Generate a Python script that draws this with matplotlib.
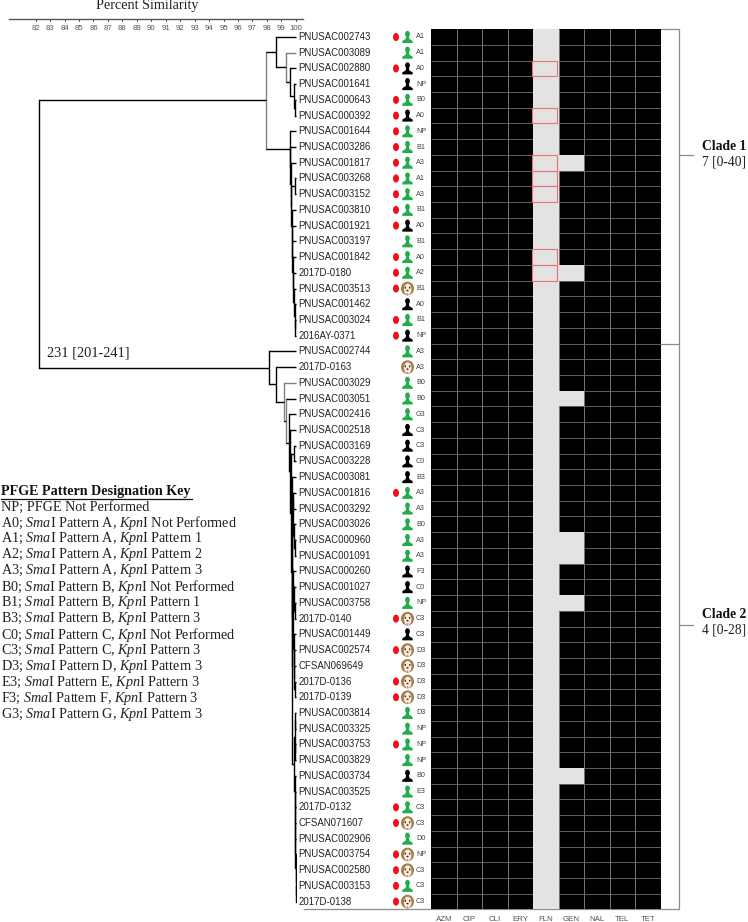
import numpy as np
import matplotlib
matplotlib.use('Agg')
from matplotlib import pyplot as plt
from matplotlib.colors import ListedColormap
from matplotlib.patches import Ellipse, Polygon, Rectangle

plt.rcParams['mathtext.fontset'] = 'custom'
plt.rcParams['mathtext.it'] = 'Liberation Serif:italic'
plt.rcParams['mathtext.rm'] = 'Liberation Serif'

W, H = 748, 922

isolates = ['PNUSAC002743', 'PNUSAC003089', 'PNUSAC002880', 'PNUSAC001641', 'PNUSAC000643', 'PNUSAC000392',
            'PNUSAC001644', 'PNUSAC003286', 'PNUSAC001817', 'PNUSAC003268', 'PNUSAC003152', 'PNUSAC003810',
            'PNUSAC001921', 'PNUSAC003197', 'PNUSAC001842', '2017D-0180', 'PNUSAC003513', 'PNUSAC001462',
            'PNUSAC003024', '2016AY-0371', 'PNUSAC002744', '2017D-0163', 'PNUSAC003029', 'PNUSAC003051',
            'PNUSAC002416', 'PNUSAC002518', 'PNUSAC003169', 'PNUSAC003228', 'PNUSAC003081', 'PNUSAC001816',
            'PNUSAC003292', 'PNUSAC003026', 'PNUSAC000960', 'PNUSAC001091', 'PNUSAC000260', 'PNUSAC001027',
            'PNUSAC003758', '2017D-0140', 'PNUSAC001449', 'PNUSAC002574', 'CFSAN069649', '2017D-0136',
            '2017D-0139', 'PNUSAC003814', 'PNUSAC003325', 'PNUSAC003753', 'PNUSAC003829', 'PNUSAC003734',
            'PNUSAC003525', '2017D-0132', 'CFSAN071607', 'PNUSAC002906', 'PNUSAC003754', 'PNUSAC002580',
            'PNUSAC003153', '2017D-0138']
pfge = ['A1', 'A1', 'A0', 'NP', 'B0', 'A0', 'NP', 'B1', 'A3', 'A1', 'A3', 'B1', 'A0', 'B1', 'A0', 'A2', 'B1', 'A0',
        'B1', 'NP', 'A3', 'A3', 'B0', 'B0', 'G3', 'C3', 'C3', 'C0', 'B3', 'A3', 'A3', 'B0', 'A3', 'A3', 'F3', 'C0',
        'NP', 'C3', 'C3', 'D3', 'D3', 'D3', 'D3', 'D3', 'NP', 'NP', 'NP', 'B0', 'E3', 'C3', 'C3', 'D0', 'NP', 'C3',
        'C3', 'C3']
# g = green person, k = black person, d = dog
source = list('ggkkgkggggggkggg' 'dkgk' 'gdggg' 'kkkk' 'ggggg' 'kk' 'g' 'd' 'k' 'dddd' 'gggg' 'k' 'gg' 'd' 'g' 'dd' 'g' 'd')
red_rows = [0, 2, 4, 5, 6, 7, 8, 9, 10, 11, 12, 14, 15, 16, 18, 19, 29, 37, 39, 41, 42, 45, 49, 50, 52, 53, 54, 55]

drugs = ['AZM', 'CIP', 'CLI', 'ERY', 'FLN', 'GEN', 'NAL', 'TEL', 'TET']
gen_rows = [8, 15, 23, 32, 33, 36, 47]
boxed_rows = [2, 5, 8, 9, 10, 14, 15]

sim_ticks = list(range(82, 101))

# ladders in the tree: (similarity, leaf or subtree hanging off it)
clade1_tail = [(99.60, 6), (99.62, 7), (99.65, 8), (99.68, (99.97, 9, 10)), (99.72, 11), (99.74, 12), (99.76, 13),
               (99.80, 14), (99.84, 15), (99.88, 16), (99.92, 17), (99.97, 18)]
clade2_tail = [(99.93, 47), (99.95, 48), (99.96, 49), (99.97, 50), (99.97, 51), (99.98, 52), (99.98, 53), (99.99, 54)]
gray_nodes = [97.94, 99.30, 99.17]
gray_leaves = [1, 22]


def chain(steps, last):
    node = last
    for sim, child in reversed(steps):
        node = (sim, child, node)
    return node


clade1 = (97.94,
          (98.66, 0, (99.30, 1, (99.60, 2, (99.85, 3, (99.97, 4, 5))))),
          chain(clade1_tail, 19))
wa = (99.80, (99.83, 29, 30), (99.86, 31, (99.97, 32, 33)))
wb = (99.80, (99.84, 34, (99.90, 35, (99.97, 36, 37))), (99.86, 38, (99.88, 39, (99.90, 40, (99.97, 41, 42)))))
xa = (99.92, (99.97, 43, 44), (99.94, 45, 46))
lower = (99.74, (99.76, wa, wb), (99.86, xa, chain(clade2_tail, 55)))
clade2 = (98.12, 20,
          (98.64, 21,
           (99.17, 22,
            (99.30, 23,
             (99.50, 24,
              (99.62, 25,
               (99.68, (99.90, 26, 27),
                (99.72, 28, lower))))))))
tree = (82.26, clade1, clade2)


def axes_px(left, top, right, bottom):
    return fig.add_axes([left / W, 1 - bottom / H, (right - left) / W, (bottom - top) / H])


fig = plt.figure(figsize=(W / 100, H / 100), dpi=100)

# overlay in pixels, for the annotations and the icons
over = axes_px(0, 0, W, H)
over.set_xlim(0, W)
over.set_ylim(H, 0)
over.axis('off')


def row_y(r):
    return 37 + r * 15.72


def sim_px(s):
    return 35.7 + (s - 82) * 14.45


# tree, x is percent similarity, y is row number
tr = axes_px(9, row_y(-0.5), 297, row_y(55.5))
tr.set_xlim((9 - 35.7) / 14.45 + 82, (297 - 35.7) / 14.45 + 82)
tr.set_ylim(55.5, -0.5)
tr.axis('off')


def draw(node):
    if isinstance(node, int):
        return node
    sim, a, b = node
    ya = draw(a)
    yb = draw(b)
    col = '#808080' if sim in gray_nodes else 'black'
    tr.plot([sim, sim], [ya, yb], color=col, lw=1.0, solid_capstyle='projecting')
    for child, yc in ((a, ya), (b, yb)):
        if isinstance(child, int):
            c = '#808080' if child in gray_leaves else 'black'
            tr.plot([sim, 100], [yc, yc], color=c, lw=1.0, solid_capstyle='butt')
        else:
            tr.plot([sim, child[0]], [yc, yc], color='black', lw=1.0, solid_capstyle='butt')
    return (ya + yb) / 2


draw(tree)

# top scale
over.plot([9, 303], [19, 19], color='#555555', lw=1.0)
for s in sim_ticks:
    over.plot([sim_px(s), sim_px(s)], [19, 21.5], color='#555555', lw=0.7)
    over.text(sim_px(s), 28, str(s), ha='center', va='center', fontsize=5.6, color='#555555',
              family='Liberation Sans')
over.text(147.5, 6, 'Percent Similarity', ha='center', va='center', fontsize=10.2, color='#222222',
          family='Liberation Serif')

# heat map
hm = axes_px(431.3, row_y(-0.5), 660.7, row_y(55.5))
rows, cols = len(isolates), len(drugs)
grid = np.zeros((rows, cols))
grid[:, drugs.index('FLN')] = 1
grid[gen_rows, drugs.index('GEN')] = 1
hm.pcolormesh(np.arange(cols + 1), np.arange(rows + 1), grid, cmap=ListedColormap(['black', '#e3e3e3']),
              vmin=0, vmax=1, zorder=1)
hm.vlines(np.arange(1, cols), 0, rows, color='#8a8a8a', lw=0.6, zorder=2)
hm.hlines(np.arange(1, rows), 0, cols, color='#6f6f6f', lw=0.6, zorder=2)
lit = np.ma.masked_where(grid == 0, grid)
hm.pcolormesh(np.arange(cols + 1), np.arange(rows + 1), lit, cmap=ListedColormap(['#e3e3e3']), zorder=3)
for r in boxed_rows:
    hm.add_patch(Rectangle((drugs.index('FLN') - 0.03, r), 0.97, 1, fill=False, ec='#ee7070', lw=0.8, zorder=4))
hm.set_xlim(0, cols)
hm.set_ylim(rows, 0)
hm.set_yticks([])
hm.set_xticks(np.arange(cols) + 0.5)
hm.set_xticklabels(drugs, fontsize=5.7, color='#555555', family='Liberation Sans')
hm.tick_params(axis='x', length=0, pad=4.5)
for sp in hm.spines.values():
    sp.set_visible(False)

# bracket on the right
over.plot([304, 679, 679, 661], [909, 909, 29, 29], color='#8c8c8c', lw=0.9)
over.plot([661, 679], [344, 344], color='#8c8c8c', lw=0.9)
over.plot([679, 693], [155, 155], color='#8c8c8c', lw=0.9)
over.plot([679, 693], [625, 625], color='#8c8c8c', lw=0.9)
for y, head, sub in ((146, 'Clade 1', '7 [0-40]'), (614, 'Clade 2', '4 [0-28]')):
    over.text(702, y, head, fontsize=9.8, fontweight='bold', family='Liberation Serif', va='center', color='#111111')
    over.text(702, y + 16, sub, fontsize=9.8, family='Liberation Serif', va='center', color='#222222')
over.text(47, 353, '231 [201-241]', fontsize=10.4, family='Liberation Serif', color='#222222', va='center')

# legend
over.text(1, 491, 'PFGE Pattern Designation Key', fontsize=10.2, fontweight='bold', family='Liberation Serif',
          va='center', color='#111111')
over.plot([1, 192], [498.5, 498.5], color='#111111', lw=0.9)
key_lines = ['NP; PFGE Not Performed']
key_rows = [('A0', 'A', 'Not Performed'), ('A1', 'A', 'Pattern 1'), ('A2', 'A', 'Pattern 2'), ('A3', 'A', 'Pattern 3'),
            ('B0', 'B', 'Not Performed'), ('B1', 'B', 'Pattern 1'), ('B3', 'B', 'Pattern 3'),
            ('C0', 'C', 'Not Performed'), ('C3', 'C', 'Pattern 3'), ('D3', 'D', 'Pattern 3'), ('E3', 'E', 'Pattern 3'),
            ('F3', 'F', 'Pattern 3'), ('G3', 'G', 'Pattern 3')]
for code, pat, kpn in key_rows:
    key_lines.append(code + '; $\\mathit{Sma}$I Pattern ' + pat + ', $\\mathit{Kpn}$I ' + kpn)
for i, line in enumerate(key_lines):
    over.text(1, 507 + i * 15.95, line, fontsize=10.2, family='Liberation Serif', va='center', color='#222222')


def person(x, y, col):
    over.add_patch(Ellipse((x, y - 3.0), 4.8, 6.2, color=col, lw=0, zorder=5))
    over.add_patch(Polygon([(x - 1.3, y - 1), (x + 1.3, y - 1), (x + 1.9, y + 2), (x + 5.2, y + 4), (x + 5.2, y + 6),
                            (x - 5.2, y + 6), (x - 5.2, y + 4), (x - 1.9, y + 2)], closed=True, color=col, lw=0,
                           zorder=5))


def dog(x, y):
    over.add_patch(Ellipse((x, y), 13, 13.6, color='#a87b45', lw=0, zorder=5))
    over.add_patch(Ellipse((x + 0.2, y + 0.8), 7.6, 11.4, color='#f6eee0', lw=0, zorder=6))
    over.add_patch(Ellipse((x - 2.2, y - 0.8), 1.4, 2.2, color='#33241a', lw=0, zorder=7))
    over.add_patch(Ellipse((x + 2.2, y - 0.8), 1.4, 2.2, color='#33241a', lw=0, zorder=7))
    over.add_patch(Ellipse((x, y + 2), 2.2, 1.5, color='#33241a', lw=0, zorder=7))
    over.add_patch(Ellipse((x, y + 5.8), 1.6, 2.6, color='#ee7aa0', lw=0, zorder=7))


for r, name in enumerate(isolates):
    y = row_y(r)
    over.text(298.5, y, name, fontsize=6.9, family='Liberation Sans', va='center', color='#222222')
    over.text(416, y, pfge[r], fontsize=5.2, family='Liberation Sans', va='center', color='#444444')
    if r in red_rows:
        over.add_patch(Ellipse((396, y), 6, 8, color='#f00f14', lw=0, zorder=5))
    if source[r] == 'd':
        dog(407.5, y)
    else:
        person(407.5, y, '#1fae4b' if source[r] == 'g' else 'black')

fig.savefig('out.png', dpi=100)
